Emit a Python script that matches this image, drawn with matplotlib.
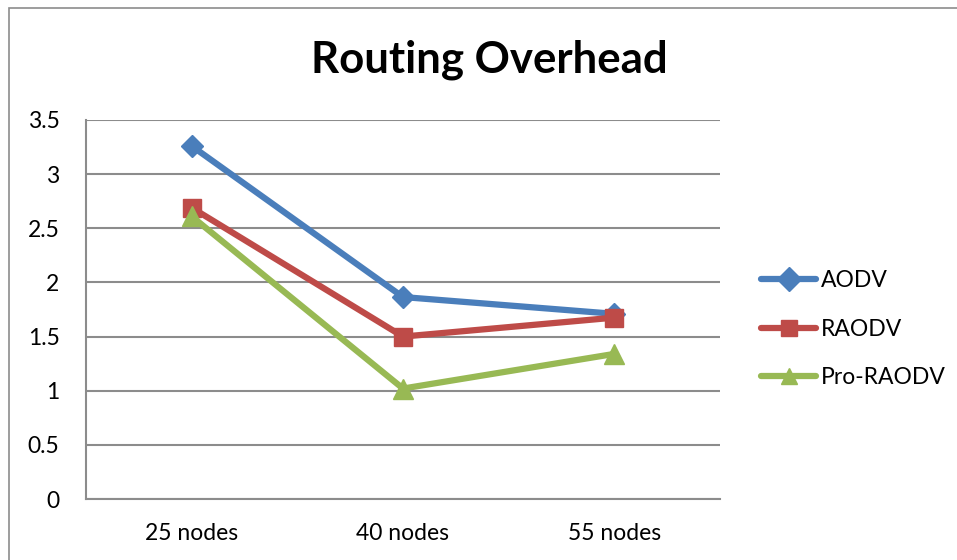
import matplotlib
matplotlib.use("Agg")
import matplotlib.pyplot as plt
from matplotlib.patches import Rectangle

categories = ["25 nodes", "40 nodes", "55 nodes"]
aodv = [3.26, 1.865, 1.71]
raodv = [2.69, 1.50, 1.675]
pro_raodv = [2.61, 1.02, 1.34]
yticks = [0, 0.5, 1, 1.5, 2, 2.5, 3, 3.5]
ytick_labels = ["0", "0.5", "1", "1.5", "2", "2.5", "3", "3.5"]

plt.rcParams['font.family'] = ['Lato', 'DejaVu Sans']

W, H = 957, 560
fig = plt.figure(figsize=(W / 100, H / 100), dpi=100)
fig.patches.append(Rectangle((9 / W, -0.1), 1.2, 1 - 8 / H + 0.1, transform=fig.transFigure,
                             fill=False, edgecolor="#8c8c8c", linewidth=1.2))

ax = fig.add_axes([86 / W, 1 - 499 / H, (720 - 86) / W, (499 - 120) / H])
x = range(len(categories))
ax.plot(x, aodv, color="#4a7ebb", lw=4.5, marker="D", ms=11, label="AODV", solid_capstyle="round")
ax.plot(x, raodv, color="#be4b48", lw=4.5, marker="s", ms=13, label="RAODV", solid_capstyle="round")
ax.plot(x, pro_raodv, color="#98b954", lw=4.5, marker="^", ms=14, label="Pro-RAODV", solid_capstyle="round")

ax.set_xlim(-0.5, len(categories) - 0.5)
ax.set_ylim(0, 3.5)
ax.set_yticks(yticks)
ax.set_yticklabels(ytick_labels)
ax.set_xticks(list(x))
ax.set_xticklabels(categories)
ax.tick_params(length=0, labelsize=16.5, colors="black")
ax.tick_params(axis="y", pad=19)
ax.tick_params(axis="x", pad=17)
ax.grid(axis="y", color="#8c8c8c", lw=1.5)
ax.set_axisbelow(True)
for s in ["top", "right"]:
    ax.spines[s].set_visible(False)
for s in ["left", "bottom"]:
    ax.spines[s].set_color("#8c8c8c")
    ax.spines[s].set_linewidth(1.5)

fig.text(489 / W, 1 - 60 / H, "Routing Overhead", ha="center", va="center",
         fontsize=31.5, fontweight="bold")

leg = fig.legend(loc="upper left", bbox_to_anchor=(752 / W, 1 - 261 / H), frameon=False,
                 fontsize=16.5, handlelength=2.4, labelspacing=1.2, handletextpad=0.2,
                 borderaxespad=0)
for h in leg.legend_handles:
    h.set_markersize(12)

fig.savefig("out.png", dpi=100)
